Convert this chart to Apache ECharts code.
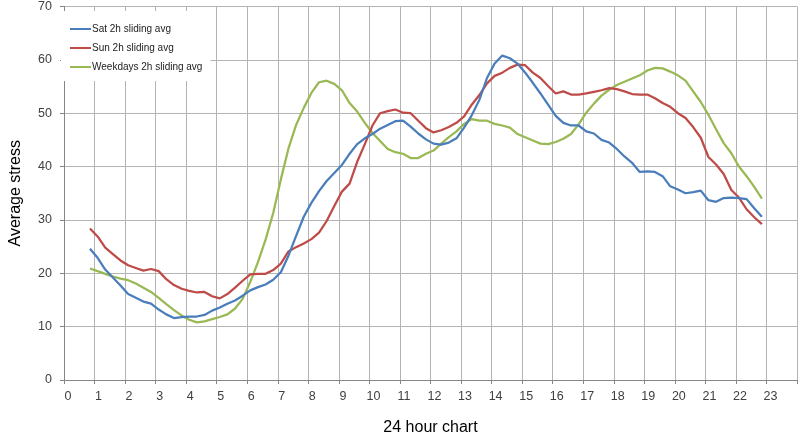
<!DOCTYPE html>
<html>
<head>
<meta charset="utf-8">
<script src="https://cdn.jsdelivr.net/npm/echarts@6/dist/echarts.min.js"></script>
<style>
html,body{margin:0;padding:0;background:#fff;}
#chart{width:800px;height:441px;}
</style>
</head>
<body>
<div id="chart"></div>
<script>
const hours = [0.85,1.10,1.35,1.60,1.85,2.10,2.35,2.60,2.85,3.10,3.35,3.60,3.85,4.10,4.35,4.60,4.85,5.10,5.35,5.60,5.85,6.10,6.35,6.60,6.85,7.10,7.35,7.60,7.85,8.10,8.35,8.60,8.85,9.10,9.35,9.60,9.85,10.10,10.35,10.60,10.85,11.10,11.35,11.60,11.85,12.10,12.35,12.60,12.85,13.10,13.35,13.60,13.85,14.10,14.35,14.60,14.85,15.10,15.35,15.60,15.85,16.10,16.35,16.60,16.85,17.10,17.35,17.60,17.85,18.10,18.35,18.60,18.85,19.10,19.35,19.60,19.85,20.10,20.35,20.60,20.85,21.10,21.35,21.60,21.85,22.10,22.35,22.60,22.85];

const satValues = [24.6,22.9,20.7,19.2,17.7,16.1,15.4,14.7,14.3,13.2,12.3,11.6,11.8,11.9,11.9,12.2,13.0,13.6,14.3,14.9,15.8,16.8,17.4,17.9,18.8,20.2,23.3,27.0,30.6,33.2,35.4,37.3,38.8,40.3,42.4,44.2,45.3,46.1,47.1,47.8,48.5,48.6,47.5,46.2,45.1,44.3,44.1,44.5,45.3,47.3,49.6,52.5,56.6,59.3,60.8,60.3,59.3,57.6,55.7,53.7,51.6,49.5,48.2,47.7,47.7,46.6,46.2,45.0,44.5,43.3,41.9,40.7,39.0,39.1,39.0,38.2,36.3,35.7,35.0,35.2,35.5,33.7,33.4,34.1,34.2,34.1,33.9,32.2,30.6];

const sunValues = [28.4,26.9,24.8,23.6,22.4,21.5,21.0,20.5,20.8,20.4,18.9,17.8,17.1,16.7,16.4,16.5,15.7,15.3,16.1,17.3,18.6,19.8,19.9,19.9,20.6,21.8,24.1,24.9,25.6,26.4,27.6,29.8,32.6,35.3,36.8,40.9,44.2,47.7,50.0,50.4,50.7,50.1,50.0,48.6,47.2,46.4,46.8,47.4,48.2,49.4,51.6,53.4,55.6,57.0,57.6,58.5,59.1,59.0,57.6,56.6,55.1,53.7,54.1,53.5,53.5,53.7,54.0,54.3,54.7,54.5,54.1,53.6,53.5,53.5,52.8,51.9,51.2,50.0,49.1,47.4,45.4,41.8,40.4,38.6,35.6,34.2,32.0,30.5,29.2];

const weekdayValues = [20.9,20.4,19.9,19.4,19.0,18.7,18.1,17.3,16.5,15.4,14.2,13.1,12.1,11.3,10.8,11.0,11.4,11.8,12.3,13.4,15.2,18.4,22.1,26.3,31.3,37.6,43.4,47.8,51.0,53.8,55.8,56.1,55.5,54.3,51.9,50.3,48.2,46.3,44.8,43.3,42.7,42.4,41.6,41.6,42.4,43.0,44.3,45.5,46.6,48.0,48.9,48.6,48.6,48.0,47.7,47.3,46.1,45.5,44.9,44.3,44.2,44.6,45.2,46.1,47.9,50.1,51.8,53.3,54.4,55.3,55.9,56.5,57.1,58.0,58.5,58.4,57.8,57.1,56.1,54.1,52.1,49.7,47.0,44.4,42.5,40.0,38.2,36.2,34.0];

const xTickLabels = ['0','1','2','3','4','5','6','7','8','9','10','11','12','13','14','15','16','17','18','19','20','21','22','23',''];
const yTickLabels = ['0','10','20','30','40','50','60','70'];
const seriesNames = ['Sat 2h sliding avg','Sun 2h sliding avg','Weekdays 2h sliding avg'];
const xAxisTitle = '24 hour chart';
const yAxisTitle = 'Average stress';

const colors = ['#4A7EBB','#BE4B48','#98B954'];
const seriesValues = [satValues, sunValues, weekdayValues];

function pairs(vals){ return hours.map((h,i)=>[h, vals[i]]); }

const chart = echarts.init(document.getElementById('chart'), null, {renderer:'canvas'});
const font = 'Liberation Sans, Arial, sans-serif';
chart.setOption({
  animation:false,
  backgroundColor:'#ffffff',
  grid:{left:54,right:2,top:6,bottom:48,containLabel:false},
  legend:{
    orient:'vertical', left:61, top:11,
    padding:[13,8,9,9],
    backgroundColor:'#ffffff',
    itemGap:9, itemWidth:21, itemHeight:2, icon:'rect',
    data:seriesNames,
    textStyle:{fontFamily:font,fontSize:10,color:'#222',padding:[0,0,0,-4]}
  },
  xAxis:{
    type:'value', min:0, max:24, interval:1,
    name:xAxisTitle, nameLocation:'middle', nameGap:40,
    nameTextStyle:{fontFamily:font,fontSize:16,color:'#000'},
    axisLine:{show:true,lineStyle:{color:'#868686',width:1}},
    axisTick:{show:true,length:4,lineStyle:{color:'#868686'}},
    axisLabel:{fontFamily:font,fontSize:12.5,color:'#404040',margin:10,padding:[0,0,0,8],
      formatter:(v)=>xTickLabels[Math.round(v)] ?? ''},
    splitLine:{show:true,lineStyle:{color:'#b4b4b4',width:1}}
  },
  yAxis:{
    type:'value', min:0, max:70, interval:10,
    name:yAxisTitle, nameLocation:'middle', nameGap:40, nameRotate:90,
    nameTextStyle:{fontFamily:font,fontSize:16,color:'#000'},
    axisLine:{show:true,lineStyle:{color:'#868686',width:1}},
    axisTick:{show:true,length:4,lineStyle:{color:'#868686'}},
    axisLabel:{fontFamily:font,fontSize:12.5,color:'#404040',margin:12,
      formatter:(v)=>yTickLabels[Math.round(v/10)] ?? ''},
    splitLine:{show:true,lineStyle:{color:'#b4b4b4',width:1}}
  },
  series: seriesNames.map((name,i)=>({
    name:name, type:'line', data:pairs(seriesValues[i]),
    showSymbol:false, symbol:'none', smooth:false,
    lineStyle:{color:colors[i],width:2.25},
    itemStyle:{color:colors[i]},
    z: 3 - i
  }))
});
</script>
</body>
</html>
